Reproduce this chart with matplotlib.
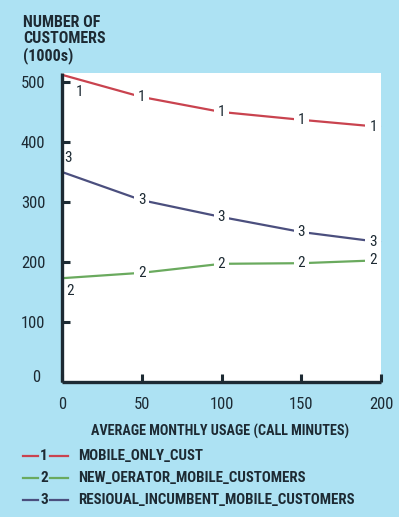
import matplotlib
matplotlib.use("Agg")
import matplotlib.pyplot as plt
from matplotlib.lines import Line2D

plt.rcParams['font.family'] = ['Roboto Condensed', 'Archivo Narrow',
                               'Barlow Semi Condensed', 'DejaVu Sans']

# Data (thousands of customers vs. average monthly usage in call minutes)
usage = [0, 50, 100, 150, 200]
mobile_only = [512, 475, 450, 437, 425]
new_operator = [173, 182, 197, 198, 203]
residual_incumbent = [350, 303, 275, 250, 233]

series_names = ["MOBILE_ONLY_CUST",
                "NEW_OERATOR_MOBILE_CUSTOMERS",
                "RESIOUAL_INCUMBENT_MOBILE_CUSTOMERS"]
series_ids = ["1", "2", "3"]
x_ticks = [0, 50, 100, 150, 200]
y_ticks = [0, 100, 200, 300, 400, 500]

BG = "#ade2f3"
INK = "#1d2a33"
RED = "#c9434f"
GREEN = "#6aaa5e"
NAVY = "#4b4f7e"

W, H = 399, 517
fig = plt.figure(figsize=(W / 100, H / 100), dpi=100, facecolor=BG)

ax = fig.add_axes([62 / W, (H - 382) / H, 319 / W, 309 / H])
ax.set_facecolor("white")
ax.set_xlim(0, 200)
ax.set_ylim(0, 515)

for side in ("top", "right"):
    ax.spines[side].set_visible(False)
for side in ("left", "bottom"):
    ax.spines[side].set_linewidth(2.4)
    ax.spines[side].set_color(INK)
    ax.spines[side].set_capstyle("butt")

ax.set_xticks(x_ticks)
ax.set_yticks(y_ticks[1:])
ax.set_xticklabels([str(t) for t in x_ticks])
ax.set_yticklabels([str(t) for t in y_ticks[1:]])
ax.tick_params(axis="both", direction="in", length=6, width=2.2, color=INK,
               labelsize=12, labelcolor=INK)
ax.tick_params(axis="y", pad=12)
ax.tick_params(axis="x", pad=11)
# y = 0 label sits beside the origin
ax.text(40 / W, 1 - 377 / H, "0", transform=fig.transFigure, ha="right",
        va="center", fontsize=12, color=INK)

series = [(mobile_only, RED), (new_operator, GREEN), (residual_incumbent, NAVY)]
label_box = dict(boxstyle="square,pad=0.25", fc="white", ec="none")

for (vals, col), sid in zip(series, series_ids):
    ax.plot(usage, vals, color=col, lw=1.6, solid_capstyle="butt",
            clip_on=False, zorder=2)
    for xv, yv in zip(usage[1:], vals[1:]):
        shift = -5 if xv == usage[-1] else 0
        ax.text(xv + shift, yv, sid, ha="center", va="center", fontsize=11,
                color=INK, bbox=label_box, zorder=3, clip_on=True)

# identifiers next to the start of each curve
ax.text(11, mobile_only[0] - 29, "1", ha="center", va="center",
        fontsize=11, color=INK)
ax.text(3.8, residual_incumbent[0] + 23, "3", ha="center", va="center",
        fontsize=11, color=INK)
ax.text(5, new_operator[0] - 21, "2", ha="center", va="center",
        fontsize=11, color=INK)

# axis titles
fig.text(23 / W, 1 - 15 / H, "NUMBER OF\nCUSTOMERS\n(1000s)", ha="left",
         va="top", fontsize=11.5, fontweight="bold", color=INK, linespacing=1.08)
fig.text(220 / W, 1 - 431 / H, "AVERAGE MONTHLY USAGE (CALL MINUTES)",
         ha="center", va="center", fontsize=10.2, fontweight="bold", color=INK)

# legend
for i, ((vals, col), sid, name) in enumerate(zip(series, series_ids, series_names)):
    yy = 1 - (456 + 22 * i) / H
    fig.add_artist(Line2D([23 / W, 38 / W], [yy, yy], color=col, lw=1.6,
                          transform=fig.transFigure))
    fig.add_artist(Line2D([50 / W, 68 / W], [yy, yy], color=col, lw=1.6,
                          transform=fig.transFigure))
    fig.text(44 / W, yy, sid, ha="center", va="center", fontsize=11,
             fontweight="bold", color=INK)
    fig.text(78 / W, yy, name, ha="left", va="center", fontsize=10.7,
             fontweight="bold", color=INK)

fig.savefig("out.png", dpi=100, facecolor=BG)
